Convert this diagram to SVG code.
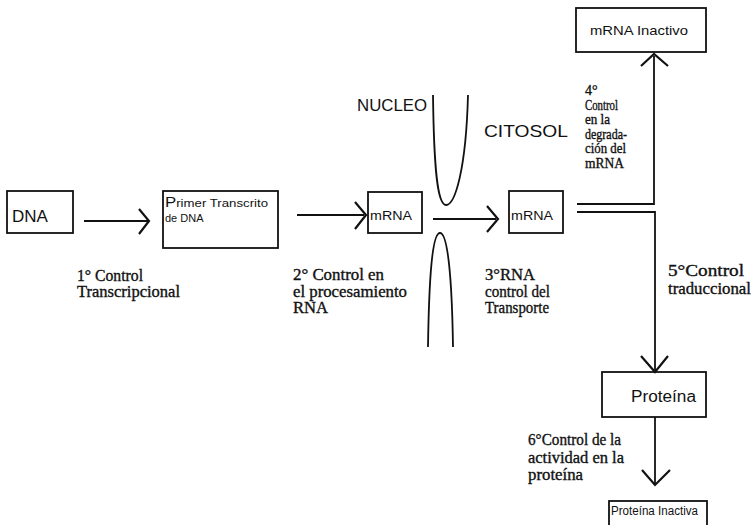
<svg xmlns="http://www.w3.org/2000/svg" width="753" height="525" viewBox="0 0 753 525">
<style>
.bg{fill:#ffffff}
.box{fill:none;stroke:#111;stroke-width:1.8}
.ln{fill:none;stroke:#111;stroke-width:1.8}
.hd{fill:none;stroke:#111;stroke-width:2.2;stroke-linejoin:miter}
.mem{fill:none;stroke:#111;stroke-width:1.8}
.sans{font-family:"Liberation Sans",Arial,sans-serif;fill:#111}
.serif{font-family:"Liberation Serif","Times New Roman",serif;fill:#111;font-size:16px;stroke:#111;stroke-width:0.35}
.small{font-size:14px}
</style>
<rect class="bg" x="0" y="0" width="753" height="525"/>

<g id="membrane">
<path class="mem" d="M433,95 C434,175 438,205 446,205 C455,205 466,170 468,95"/>
<path class="mem" d="M428,347 C429,280 432,233 440,233 C448,233 452,280 453,347"/>
<text class="sans" x="357" y="111" font-size="17" textLength="70" lengthAdjust="spacingAndGlyphs">NUCLEO</text>
<text class="sans" x="484" y="137" font-size="17" textLength="84" lengthAdjust="spacingAndGlyphs">CITOSOL</text>
</g>

<g id="dna">
<rect class="box" x="7" y="191" width="66" height="42"/>
<text class="sans" x="12" y="222" font-size="17">DNA</text>
</g>

<g id="primer">
<rect class="box" x="163" y="191" width="115" height="57"/>
<text class="sans" x="165" y="207" font-size="11" textLength="103" lengthAdjust="spacingAndGlyphs"><tspan font-size="14">P</tspan>rimer Transcrito</text>
<text class="sans" x="165" y="222" font-size="11">de DNA</text>
</g>

<g id="mrna1">
<rect class="box" x="368" y="192" width="54" height="41"/>
<text class="sans" x="370" y="220" font-size="13" textLength="42" lengthAdjust="spacingAndGlyphs">mRNA</text>
</g>

<g id="mrna2">
<rect class="box" x="509" y="191" width="54" height="42"/>
<text class="sans" x="511" y="220" font-size="13" textLength="42" lengthAdjust="spacingAndGlyphs">mRNA</text>
</g>

<g id="mrna-inactivo">
<rect class="box" x="576" y="8" width="130" height="44"/>
<text class="sans" x="590" y="35" font-size="13" textLength="98" lengthAdjust="spacingAndGlyphs">mRNA Inactivo</text>
</g>

<g id="proteina">
<rect class="box" x="602" y="372" width="104" height="45"/>
<text class="sans" x="631" y="402" font-size="16" textLength="65" lengthAdjust="spacingAndGlyphs">Proteína</text>
</g>

<g id="proteina-inactiva">
<rect class="box" x="609" y="501" width="98" height="40"/>
<text class="sans" x="611" y="515" font-size="12" textLength="87" lengthAdjust="spacingAndGlyphs">Proteína Inactiva</text>
</g>

<g id="connectors">
<line class="ln" x1="84" y1="221" x2="148" y2="221"/>
<polyline class="hd" points="139,209 149,221 139,234"/>
<line class="ln" x1="297" y1="215" x2="364" y2="215"/>
<polyline class="hd" points="355,202 366,215 355,229"/>
<line class="ln" x1="433" y1="219" x2="496" y2="219"/>
<polyline class="hd" points="487,206 498,219 487,232"/>
<polyline class="ln" points="577,204 654,204 654,56"/>
<polyline class="hd" points="641,66 654,54 668,66"/>
<polyline class="ln" points="577,212 655,212 655,370"/>
<polyline class="hd" points="641,356 655,372 668,356"/>
<line class="ln" x1="655" y1="417" x2="655" y2="484"/>
<polyline class="hd" points="642,470 655,485 670,470"/>
</g>

<g id="labels">
<text class="serif" x="77" y="281" textLength="66" lengthAdjust="spacingAndGlyphs">1° Control</text>
<text class="serif" x="77" y="297" textLength="103" lengthAdjust="spacingAndGlyphs">Transcripcional</text>
<text class="serif" x="293" y="280" textLength="91" lengthAdjust="spacingAndGlyphs">2° Control en</text>
<text class="serif" x="293" y="297" textLength="114" lengthAdjust="spacingAndGlyphs">el procesamiento</text>
<text class="serif" x="293" y="313" textLength="35" lengthAdjust="spacingAndGlyphs">RNA</text>
<text class="serif" x="485" y="280" textLength="50" lengthAdjust="spacingAndGlyphs">3°RNA</text>
<text class="serif" x="485" y="297" textLength="65" lengthAdjust="spacingAndGlyphs">control del</text>
<text class="serif" x="485" y="313" textLength="64" lengthAdjust="spacingAndGlyphs">Transporte</text>
<text class="serif small" x="585" y="95">4°</text>
<text class="serif small" x="585" y="109.5" textLength="33" lengthAdjust="spacingAndGlyphs">Control</text>
<text class="serif small" x="585" y="124" textLength="25" lengthAdjust="spacingAndGlyphs">en la</text>
<text class="serif small" x="585" y="138.5" textLength="42" lengthAdjust="spacingAndGlyphs">degrada-</text>
<text class="serif small" x="585" y="153" textLength="41" lengthAdjust="spacingAndGlyphs">ción del</text>
<text class="serif small" x="585" y="168" textLength="39" lengthAdjust="spacingAndGlyphs">mRNA</text>
<text class="serif" x="668" y="276" textLength="76" lengthAdjust="spacingAndGlyphs">5°Control</text>
<text class="serif" x="668" y="294" textLength="83" lengthAdjust="spacingAndGlyphs">traduccional</text>
<text class="serif" x="528" y="445" textLength="93" lengthAdjust="spacingAndGlyphs">6°Control de la</text>
<text class="serif" x="528" y="463" textLength="96" lengthAdjust="spacingAndGlyphs">actividad en la</text>
<text class="serif" x="528" y="480" textLength="55" lengthAdjust="spacingAndGlyphs">proteína</text>
</g>
</svg>
